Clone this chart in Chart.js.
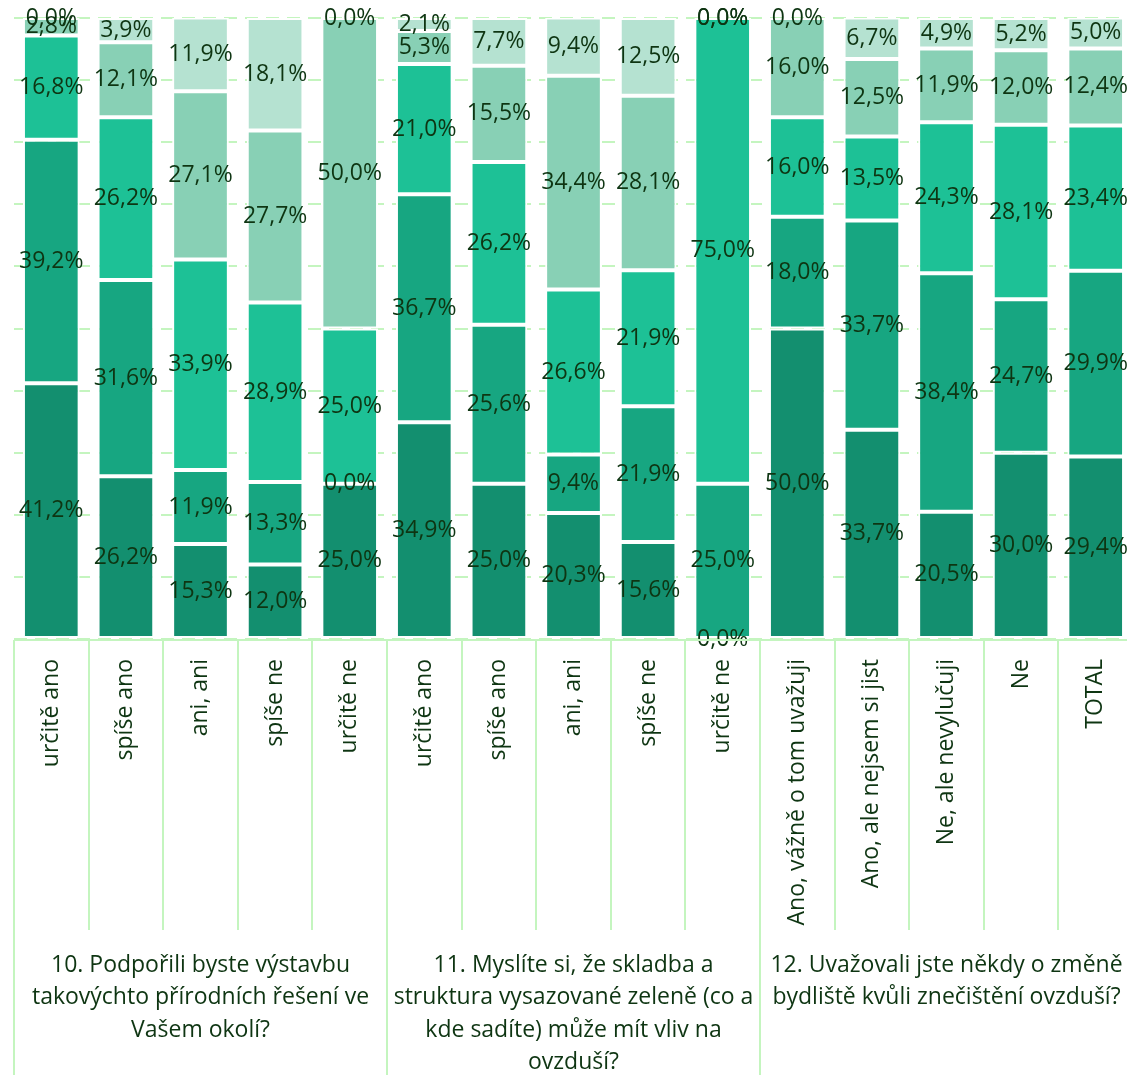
<!DOCTYPE html>
<html>
<head>
<meta charset="utf-8">
<script src="https://cdn.jsdelivr.net/npm/chart.js@4.4.1/dist/chart.umd.min.js"></script>
<style>
  html, body { margin: 0; padding: 0; background: #fff; overflow: hidden; }
  #wrap { width: 1133px; height: 1075px; }
</style>
</head>
<body>
<div id="wrap"><canvas id="chart" width="1133" height="1075"></canvas></div>
<script>
// categories (x axis, rotated)
const categories = [
  'určitě ano', 'spíše ano', 'ani, ani', 'spíše ne', 'určitě ne',
  'určitě ano', 'spíše ano', 'ani, ani', 'spíše ne', 'určitě ne',
  'Ano, vážně o tom uvažuji', 'Ano, ale nejsem si jist', 'Ne, ale nevylučuji', 'Ne', 'TOTAL'
];

// question titles under each group of 5 categories
const groupTitles = [
  ['10. Podpořili byste výstavbu', 'takovýchto přírodních řešení ve', 'Vašem okolí?'],
  ['11. Myslíte si, že skladba a', 'struktura vysazované zeleně (co a', 'kde sadíte) může mít vliv na', 'ovzduší?'],
  ['12. Uvažovali jste někdy o změně', 'bydliště kvůli znečištění ovzduší?']
];
const groupSize = 5;

// stacked shares in %, bottom segment first
const seg1 = [41.2, 26.2, 15.3, 12.0, 25.0, 34.9, 25.0, 20.3, 15.6, 0.0, 50.0, 33.7, 20.5, 30.0, 29.4];
const seg2 = [39.2, 31.6, 11.9, 13.3, 0.0, 36.7, 25.6, 9.4, 21.9, 25.0, 18.0, 33.7, 38.4, 24.7, 29.9];
const seg3 = [16.8, 26.2, 33.9, 28.9, 25.0, 21.0, 26.2, 26.6, 21.9, 75.0, 16.0, 13.5, 24.3, 28.1, 23.4];
const seg4 = [2.8, 12.1, 27.1, 27.7, 50.0, 5.3, 15.5, 34.4, 28.1, 0.0, 16.0, 12.5, 11.9, 12.0, 12.4];
const seg5 = [0.0, 3.9, 11.9, 18.1, 0.0, 2.1, 7.7, 9.4, 12.5, 0.0, 0.0, 6.7, 4.9, 5.2, 5.0];

const segColors = ['#138f6f', '#17a681', '#1dc196', '#88d0b5', '#b5e2d1'];
const textColor = '#0e3512';
const lineColor = '#c4f5bf';
const AXIS_H = 436;

// --- draws the value labels in the middle of each segment
const valueLabels = {
  id: 'valueLabels',
  afterDatasetsDraw(chart) {
    const ctx = chart.ctx;
    ctx.save();
    ctx.font = '23px "Open Sans"';
    ctx.fillStyle = textColor;
    ctx.textAlign = 'center';
    ctx.textBaseline = 'middle';
    chart.data.datasets.forEach((ds, i) => {
      const meta = chart.getDatasetMeta(i);
      meta.data.forEach((bar, j) => {
        const v = ds.data[j];
        const y = (bar.y + bar.base) / 2;
        ctx.fillText(v.toFixed(1).replace('.', ',') + '%', bar.x, y);
      });
    });
    ctx.restore();
  }
};

// --- the boxed category area with the group titles
const categoryBox = {
  id: 'categoryBox',
  afterDraw(chart) {
    const { ctx, chartArea } = chart;
    const n = categories.length;
    const w = (chartArea.right - chartArea.left) / n;
    const top = chartArea.bottom + 1;
    const bottom = chart.height;
    ctx.save();
    ctx.strokeStyle = lineColor;
    ctx.lineWidth = 2;
    ctx.beginPath();
    ctx.moveTo(chartArea.left, top);
    ctx.lineTo(chartArea.right, top);
    for (let i = 0; i <= n; i++) {
      const x = Math.round(chartArea.left + i * w);
      ctx.moveTo(x, top);
      ctx.lineTo(x, i % groupSize === 0 ? bottom : 930);
    }
    ctx.stroke();

    ctx.font = '23px "Open Sans"';
    ctx.fillStyle = textColor;
    ctx.textAlign = 'center';
    ctx.textBaseline = 'middle';
    groupTitles.forEach((lines, g) => {
      const cx = chartArea.left + (g * groupSize + groupSize / 2) * w;
      lines.forEach((line, k) => {
        ctx.fillText(line, cx, 965 + k * 32.5);
      });
    });
    ctx.restore();
  }
};

const ctx = document.getElementById('chart').getContext('2d');
new Chart(ctx, {
  type: 'bar',
  data: {
    labels: categories,
    datasets: [seg1, seg2, seg3, seg4, seg5].map((d, i) => ({
      data: d,
      backgroundColor: segColors[i],
      borderColor: '#ffffff',
      borderWidth: 2,
      borderSkipped: false,
      barPercentage: 0.76,
      categoryPercentage: 1.0
    }))
  },
  options: {
    responsive: false,
    animation: false,
    devicePixelRatio: 1,
    layout: { padding: { top: 18, left: 14, right: 0, bottom: 0 } },
    plugins: {
      legend: { display: false },
      tooltip: { enabled: false }
    },
    scales: {
      x: {
        stacked: true,
        grid: { display: false, drawTicks: false },
        border: { display: false },
        ticks: {
          autoSkip: false,
          minRotation: 90,
          maxRotation: 90,
          padding: 20,
          color: textColor,
          font: { family: 'Open Sans', size: 23 }
        },
        afterFit(scale) {
          scale.height = AXIS_H;
          scale.paddingLeft = 0;
          scale.paddingRight = 0;
        }
      },
      y: {
        stacked: true,
        min: 0,
        max: 100,
        ticks: { display: false, stepSize: 10 },
        grid: { color: lineColor, lineWidth: 2, drawTicks: false },
        border: { display: false, dash: [13, 8] },
        afterFit(scale) { scale.width = 0; }
      }
    }
  },
  plugins: [valueLabels, categoryBox]
});
</script>
</body>
</html>
